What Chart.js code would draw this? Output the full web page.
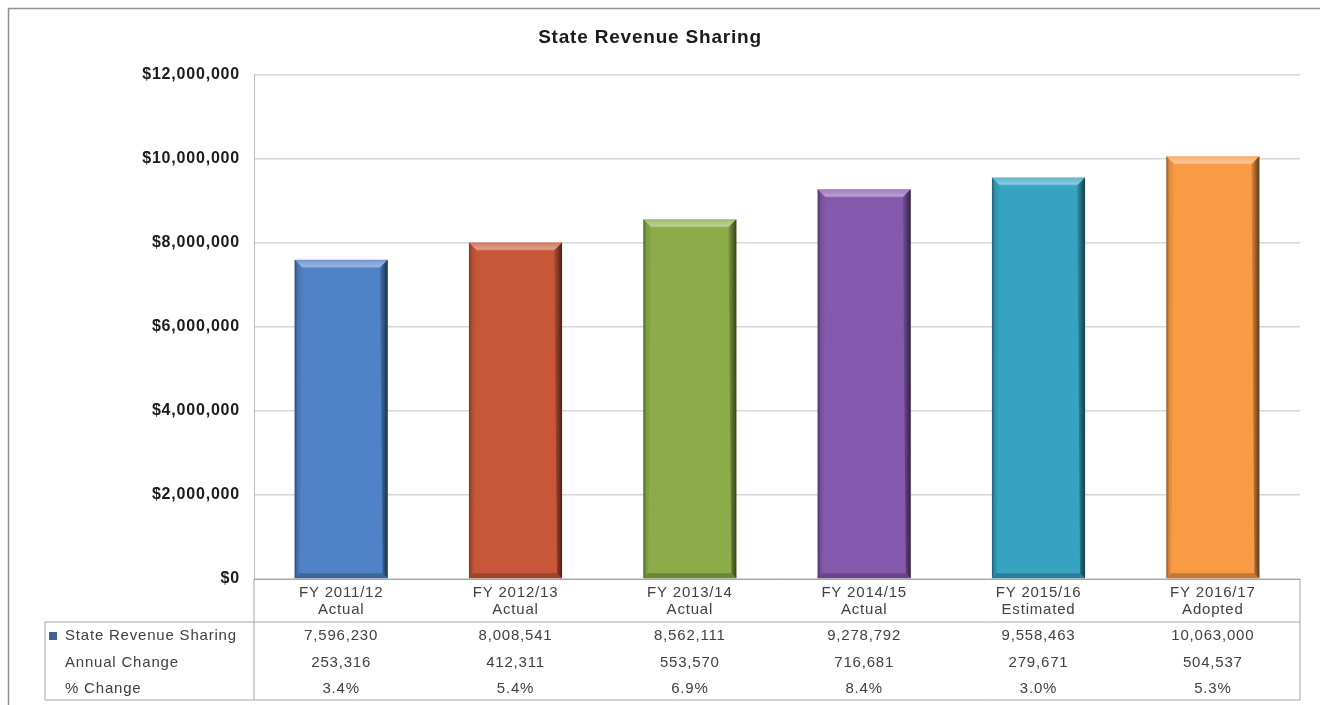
<!DOCTYPE html>
<html>
<head>
<meta charset="utf-8">
<title>State Revenue Sharing</title>
<script src="https://cdn.jsdelivr.net/npm/chart.js@4.4.1/dist/chart.umd.min.js"></script>
<style>
    html, body { margin: 0; padding: 0; background: #ffffff; }
    #wrap { position: relative; width: 1320px; height: 705px; }
</style>
</head>
<body>
<div id="wrap"><canvas id="revenueChart"></canvas></div>
<script>
// chart data
const fiscalYears = ["FY 2011/12", "FY 2012/13", "FY 2013/14", "FY 2014/15", "FY 2015/16", "FY 2016/17"];
const yearStatus = ["Actual", "Actual", "Actual", "Actual", "Estimated", "Adopted"];
const revenue = [7596230, 8008541, 8562111, 9278792, 9558463, 10063000];
const annualChange = [253316, 412311, 553570, 716681, 279671, 504537];
const pctChange = [3.4, 5.4, 6.9, 8.4, 3.0, 5.3];
const yMin = 0, yMax = 12000000, yStep = 2000000;

const barColors = ["#4F82C6", "#C8573A", "#8BAC48", "#8559AE", "#36A3C1", "#F99A45"];
const fontFamily = "'Liberation Sans', Arial, sans-serif";
const textGray = "#404040";
const lineGray = "#a6a6a6";

const labels = fiscalYears.map((fy, i) => [fy, yearStatus[i]]);
const fmt = n => n.toLocaleString("en-US");

// letter spacing gets reset when canvas resizes, so set it each pass
const spacingPlugin = {
    id: "spacing",
    beforeLayout(chart) { chart.ctx.letterSpacing = "0.8px"; },
    beforeDraw(chart) { chart.ctx.letterSpacing = "0.8px"; }
};

// outer frame
const framePlugin = {
    id: "frame",
    beforeDraw(chart) {
        const ctx = chart.ctx;
        ctx.save();
        ctx.strokeStyle = "#8f8f8f";
        ctx.lineWidth = 1.5;
        ctx.strokeRect(8.5, 8.5, chart.width + 20, chart.height + 20);
        ctx.restore();
    }
};

// Excel-like bevel on each bar
const bevelPlugin = {
    id: "bevel",
    afterDatasetsDraw(chart) {
        const ctx = chart.ctx;
        const meta = chart.getDatasetMeta(0);
        meta.data.forEach(bar => {
            const p = bar.getProps(["x", "y", "base", "width"], true);
            const l = p.x - p.width / 2, r = p.x + p.width / 2, t = p.y, b = p.base;
            const bv = 8, bb = 5;
            ctx.save();
            // top highlight
            let g = ctx.createLinearGradient(0, t, 0, t + bv);
            g.addColorStop(0, "rgba(255,255,255,0.18)");
            g.addColorStop(0.8, "rgba(255,255,255,0.42)");
            g.addColorStop(1, "rgba(255,255,255,0.2)");
            ctx.fillStyle = g;
            ctx.beginPath();
            ctx.moveTo(l, t); ctx.lineTo(r, t); ctx.lineTo(r - bv, t + bv); ctx.lineTo(l + bv, t + bv);
            ctx.closePath(); ctx.fill();
            // bottom shade
            ctx.fillStyle = "rgba(0,0,0,0.22)";
            ctx.beginPath();
            ctx.moveTo(l, b); ctx.lineTo(r, b); ctx.lineTo(r - bb, b - bb); ctx.lineTo(l + bb, b - bb);
            ctx.closePath(); ctx.fill();
            // right shade
            g = ctx.createLinearGradient(r - bv, 0, r, 0);
            g.addColorStop(0, "rgba(0,0,0,0.1)");
            g.addColorStop(1, "rgba(0,0,0,0.62)");
            ctx.fillStyle = g;
            ctx.beginPath();
            ctx.moveTo(r, t); ctx.lineTo(r, b); ctx.lineTo(r - bb, b - bb); ctx.lineTo(r - bv, t + bv);
            ctx.closePath(); ctx.fill();
            // left shade
            g = ctx.createLinearGradient(l, 0, l + bv, 0);
            g.addColorStop(0, "rgba(0,0,0,0.4)");
            g.addColorStop(0.4, "rgba(0,0,0,0.1)");
            g.addColorStop(1, "rgba(0,0,0,0.02)");
            ctx.fillStyle = g;
            ctx.beginPath();
            ctx.moveTo(l, t); ctx.lineTo(l + bv, t + bv); ctx.lineTo(l + bb, b - bb); ctx.lineTo(l, b);
            ctx.closePath(); ctx.fill();
            ctx.restore();
        });
    }
};

// data table under the category axis
const tablePlugin = {
    id: "dataTable",
    afterDraw(chart) {
        const ctx = chart.ctx;
        const ca = chart.chartArea;
        const xs = chart.scales.x;
        const tableLeft = 45;
        const headBottom = ca.bottom + 43;
        const tableBottom = ca.bottom + 121;
        ctx.save();
        ctx.strokeStyle = lineGray;
        ctx.lineWidth = 1;
        ctx.beginPath();
        ctx.moveTo(ca.left, ca.bottom); ctx.lineTo(ca.left, tableBottom);
        ctx.moveTo(ca.right, ca.bottom); ctx.lineTo(ca.right, tableBottom);
        ctx.moveTo(tableLeft, headBottom); ctx.lineTo(ca.right, headBottom);
        ctx.moveTo(tableLeft, tableBottom); ctx.lineTo(ca.right, tableBottom);
        ctx.moveTo(tableLeft, headBottom); ctx.lineTo(tableLeft, tableBottom);
        ctx.stroke();

        const rows = [
            { name: "State Revenue Sharing", vals: revenue.map(fmt), key: true },
            { name: "Annual Change", vals: annualChange.map(fmt) },
            { name: "% Change", vals: pctChange.map(v => v.toFixed(1) + "%") }
        ];
        ctx.font = "15px " + fontFamily;
        ctx.fillStyle = textGray;
        ctx.textBaseline = "middle";
        rows.forEach((row, ri) => {
            const y = headBottom + 14 + ri * 26.5;
            if (row.key) {
                ctx.fillStyle = "#3f6294";
                ctx.fillRect(tableLeft + 4, y - 4, 8, 8);
                ctx.fillStyle = textGray;
            }
            ctx.textAlign = "left";
            ctx.fillText(row.name, tableLeft + 20, y);
            ctx.textAlign = "center";
            row.vals.forEach((v, i) => ctx.fillText(v, xs.getPixelForValue(i), y));
        });
        ctx.restore();
    }
};

new Chart(document.getElementById("revenueChart"), {
    type: "bar",
    data: {
        labels: labels,
        datasets: [{
            label: "State Revenue Sharing",
            data: revenue,
            backgroundColor: barColors,
            borderWidth: 0,
            barPercentage: 0.534,
            categoryPercentage: 1
        }]
    },
    options: {
        responsive: true,
        maintainAspectRatio: false,
        animation: false,
        layout: { padding: { left: 0, right: 20, top: 0, bottom: 0 } },
        plugins: {
            legend: { display: false },
            tooltip: { enabled: false },
            title: {
                display: true,
                text: "State Revenue Sharing",
                color: "#1a1a1a",
                font: { family: fontFamily, size: 19, weight: "bold" },
                padding: { top: 26, bottom: 26 }
            }
        },
        scales: {
            y: {
                min: yMin,
                max: yMax,
                ticks: {
                    stepSize: yStep,
                    padding: 14,
                    color: "#1a1a1a",
                    font: { family: fontFamily, size: 16, weight: "bold" },
                    callback: v => "$" + fmt(v)
                },
                grid: { color: "#d6d6d6", lineWidth: 1.5, drawTicks: false },
                border: { color: "#bfbfbf" },
                afterFit: scale => { scale.width = 254; }
            },
            x: {
                ticks: {
                    padding: -3,
                    color: textGray,
                    maxRotation: 0,
                    autoSkip: false,
                    font: { family: fontFamily, size: 15, lineHeight: 1.15 }
                },
                grid: { display: false },
                border: { color: lineGray },
                afterFit: scale => { scale.height = 126; }
            }
        }
    },
    plugins: [spacingPlugin, framePlugin, bevelPlugin, tablePlugin]
});
</script>
</body>
</html>
